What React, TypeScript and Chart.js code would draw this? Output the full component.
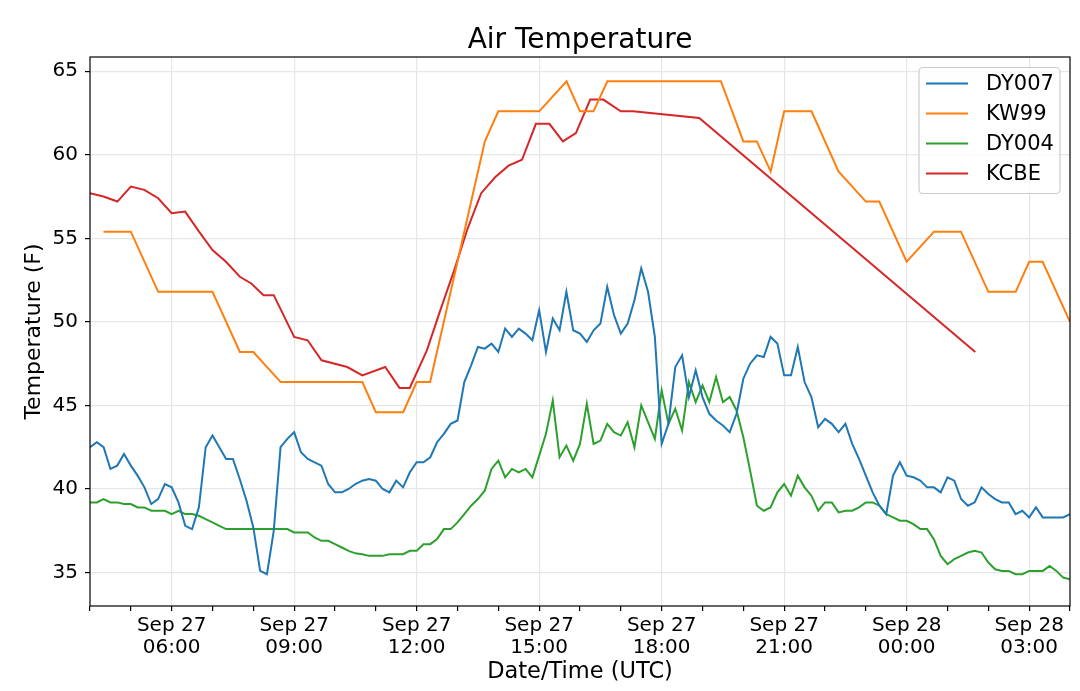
import { useEffect, useRef } from 'react';
import { Chart, registerables } from 'chart.js';

Chart.register(...registerables);

// Hours are counted from Sep 27 00:00 UTC (24 = Sep 28 00:00).
// DY007 / DY004 report every 10 minutes starting at 04:00.
const START_HOUR = 4;
const STEP_MINUTES = 10;

const dy007 = [
  42.5, 42.8, 42.5, 41.2, 41.4, 42.1, 41.4, 40.8, 40.1, 39.1, 39.4, 40.3,
  40.1, 39.2, 37.8, 37.6, 38.9, 42.5, 43.2, 42.5, 41.8, 41.8, 40.6, 39.3,
  37.7, 35.1, 34.9, 37.5, 42.5, 43.0, 43.4, 42.2, 41.8, 41.6, 41.4, 40.3,
  39.8, 39.8, 40.0, 40.3, 40.5, 40.6, 40.5, 40.0, 39.8, 40.5, 40.1, 41.0,
  41.6, 41.6, 41.9, 42.8, 43.3, 43.9, 44.1, 46.4, 47.4, 48.5, 48.4, 48.7,
  48.2, 49.6, 49.1, 49.6, 49.3, 48.9, 50.7, 48.2, 50.2, 49.5, 51.8, 49.5,
  49.3, 48.8, 49.5, 49.9, 52.1, 50.4, 49.3, 49.9, 51.3, 53.2, 51.8, 49.1,
  42.7, 43.9, 47.3, 48.0, 45.5, 47.1, 45.5, 44.5, 44.1, 43.8, 43.4, 44.5,
  46.6, 47.5, 48.0, 47.9, 49.1, 48.7, 46.8, 46.8, 48.5, 46.4, 45.5, 43.7,
  44.2, 43.9, 43.4, 43.9, 42.7, 41.8, 40.8, 39.8, 39.0, 38.5, 40.8, 41.6,
  40.8, 40.7, 40.5, 40.1, 40.1, 39.8, 40.7, 40.5, 39.4, 39.0, 39.2, 40.1,
  39.7, 39.4, 39.2, 39.2, 38.5, 38.7, 38.3, 38.9, 38.3, 38.3, 38.3, 38.3,
  38.5,
];

const dy004 = [
  39.2, 39.2, 39.4, 39.2, 39.2, 39.1, 39.1, 38.9, 38.9, 38.7, 38.7, 38.7,
  38.5, 38.7, 38.5, 38.5, 38.4, 38.2, 38.0, 37.8, 37.6, 37.6, 37.6, 37.6,
  37.6, 37.6, 37.6, 37.6, 37.6, 37.6, 37.4, 37.4, 37.4, 37.1, 36.9, 36.9,
  36.7, 36.5, 36.3, 36.15, 36.1, 36.0, 36.0, 36.0, 36.1, 36.1, 36.1, 36.3,
  36.3, 36.7, 36.7, 37.0, 37.6, 37.6, 38.0, 38.5, 39.0, 39.4, 39.9, 41.2,
  41.7, 40.7, 41.2, 41.0, 41.2, 40.7, 42.0, 43.3, 45.3, 41.9, 42.6, 41.7,
  42.7, 45.1, 42.7, 42.9, 43.9, 43.4, 43.2, 44.0, 42.5, 45.0, 44.0, 43.0,
  45.9, 43.9, 44.8, 43.5, 46.4, 45.2, 46.2, 45.2, 46.7, 45.2, 45.5, 44.7,
  43.1, 41.1, 39.0, 38.7, 38.9, 39.8, 40.3, 39.6, 40.8, 40.1, 39.6, 38.7,
  39.2, 39.2, 38.6, 38.7, 38.7, 38.9, 39.2, 39.2, 39.0, 38.5, 38.3, 38.1,
  38.1, 37.9, 37.6, 37.6, 37.0, 36.0, 35.5, 35.8, 36.0, 36.2, 36.3, 36.2,
  35.6, 35.2, 35.1, 35.1, 34.9, 34.9, 35.1, 35.1, 35.1, 35.4, 35.1, 34.7,
  34.6,
];

const kw99Hours = [
  4.33, 5.0, 5.67, 7.0, 7.67, 8.0, 8.67, 10.67, 11.0, 11.67, 12.0, 12.33,
  13.67, 14.0, 15.0, 15.67, 16.0, 16.33, 16.67, 19.45, 20.0, 20.33, 20.67,
  21.0, 21.67, 22.33, 23.0, 23.33, 24.0, 24.67, 25.33, 26.0, 26.67, 27.0,
  27.33, 28.0,
];
const kw99 = [
  55.4, 55.4, 51.8, 51.8, 48.2, 48.2, 46.4, 46.4, 44.6, 44.6, 46.4, 46.4,
  60.8, 62.6, 62.6, 64.4, 62.6, 62.6, 64.4, 64.4, 60.8, 60.8, 59.0,
  62.6, 62.6, 59.0, 57.2, 57.2, 53.6, 55.4, 55.4, 51.8, 51.8, 53.6,
  53.6, 50.0,
];

const kcbeHours = [
  4.0, 4.33, 4.67, 5.0, 5.33, 5.67, 6.0, 6.33, 6.67, 7.0, 7.33, 7.67, 7.95,
  8.25, 8.5, 9.0, 9.33, 9.67, 10.3, 10.67, 11.23, 11.58, 11.83, 12.25, 12.58,
  12.92, 13.25, 13.58, 13.92, 14.25, 14.58, 14.92, 15.25, 15.58, 15.9, 16.25,
  16.57, 17.0, 17.3, 18.92, 25.68,
];
const kcbe = [
  57.7, 57.5, 57.2, 58.1, 57.9, 57.4, 56.5, 56.6, 55.4, 54.3, 53.6, 52.7, 52.3,
  51.6, 51.6, 49.1, 48.9, 47.7, 47.3, 46.8, 47.3, 46.05, 46.05, 48.3, 50.7,
  53.1, 55.6, 57.7, 58.65, 59.35, 59.7, 61.85, 61.85, 60.8, 61.3, 63.3,
  63.3, 62.6, 62.6, 62.2, 48.2,
];

const majorHours = [6, 9, 12, 15, 18, 21, 24, 27];
const majorLabels = [
  ['Sep 27', '06:00'],
  ['Sep 27', '09:00'],
  ['Sep 27', '12:00'],
  ['Sep 27', '15:00'],
  ['Sep 27', '18:00'],
  ['Sep 27', '21:00'],
  ['Sep 28', '00:00'],
  ['Sep 28', '03:00'],
];
const tempTicks = [35, 40, 45, 50, 55, 60, 65];

const FONT = "'DejaVu Sans', sans-serif";
const GRID = '#e6e6e6';

function gridSeries(values: number[]) {
  return values.map((v, i) => ({ x: START_HOUR + (i * STEP_MINUTES) / 60, y: v }));
}

function timedSeries(hours: number[], values: number[]) {
  return values.map((v, i) => ({ x: hours[i], y: v }));
}

// matplotlib style frame around the axes
const framePlugin = {
  id: 'frame',
  afterDatasetsDraw(chart: any) {
    const { ctx, chartArea: a } = chart;
    ctx.save();
    ctx.strokeStyle = '#000';
    ctx.lineWidth = 1.2;
    ctx.strokeRect(a.left, a.top, a.right - a.left, a.bottom - a.top);
    ctx.restore();
  },
};

// framed legend in the upper right corner
const legendPlugin = {
  id: 'boxLegend',
  afterDraw(chart: any) {
    const { ctx, chartArea: a } = chart;
    const sets = chart.data.datasets;
    const w = 141;
    const h = 126;
    const x0 = a.right - 10 - w;
    const y0 = a.top + 10.5;
    ctx.save();
    ctx.beginPath();
    ctx.roundRect(x0, y0, w, h, 4);
    ctx.fillStyle = 'rgba(255,255,255,0.8)';
    ctx.fill();
    ctx.strokeStyle = '#cccccc';
    ctx.lineWidth = 1.2;
    ctx.stroke();
    ctx.font = `21px ${FONT}`;
    ctx.textBaseline = 'middle';
    ctx.textAlign = 'left';
    sets.forEach((ds: any, i: number) => {
      const y = y0 + 16 + i * 30;
      ctx.beginPath();
      ctx.moveTo(x0 + 7, y);
      ctx.lineTo(x0 + 49, y);
      ctx.strokeStyle = ds.borderColor;
      ctx.lineWidth = 2;
      ctx.stroke();
      ctx.fillStyle = '#000';
      ctx.fillText(ds.label, x0 + 67, y + 1);
    });
    ctx.restore();
  },
};

export default function App() {
  const canvasRef = useRef<HTMLCanvasElement>(null);

  useEffect(() => {
    if (!canvasRef.current) return;

    const hourTicks: { value: number }[] = [];
    for (let hr = 4; hr <= 28; hr++) hourTicks.push({ value: hr });

    const chart = new Chart(canvasRef.current, {
      type: 'line',
      data: {
        datasets: [
          { label: 'DY007', data: gridSeries(dy007), borderColor: '#1f77b4' },
          { label: 'KW99', data: timedSeries(kw99Hours, kw99), borderColor: '#ff7f0e' },
          { label: 'DY004', data: gridSeries(dy004), borderColor: '#2ca02c' },
          { label: 'KCBE', data: timedSeries(kcbeHours, kcbe), borderColor: '#d62728' },
        ],
      },
      options: {
        animation: false,
        responsive: true,
        maintainAspectRatio: false,
        layout: { padding: { left: 0, right: 10, top: 0, bottom: 0 } },
        elements: {
          point: { radius: 0 },
          line: { borderWidth: 2, tension: 0, fill: false },
        },
        plugins: {
          legend: { display: false },
          tooltip: { enabled: false },
          title: {
            display: true,
            fullSize: false,
            text: 'Air Temperature',
            color: '#000',
            font: { family: FONT, size: 28, weight: 'normal', lineHeight: 1.1 },
            padding: { top: 25.2, bottom: 1 },
          },
        },
        scales: {
          x: {
            type: 'linear',
            min: 4,
            max: 28,
            afterBuildTicks: (scale: any) => {
              scale.ticks = hourTicks.map((t) => ({ ...t }));
            },
            afterFit: (scale: any) => {
              scale.height = 85;
            },
            border: { display: false },
            grid: {
              color: (ctx: any) =>
                majorHours.includes(ctx.tick?.value) ? GRID : 'rgba(0,0,0,0)',
              lineWidth: 1.2,
              tickColor: '#000',
              tickLength: 5,
              tickWidth: 1.2,
            },
            ticks: {
              autoSkip: false,
              maxRotation: 0,
              minRotation: 0,
              padding: 3,
              color: '#000',
              font: { family: FONT, size: 20, lineHeight: 1.13 },
              callback: (value: any) => {
                const k = majorHours.indexOf(Number(value));
                return k >= 0 ? majorLabels[k] : '';
              },
            },
            title: {
              display: true,
              text: 'Date/Time (UTC)',
              color: '#000',
              font: { family: FONT, size: 22.5 },
              padding: { top: 0, bottom: 5.5 },
            },
          },
          y: {
            type: 'linear',
            min: 33,
            max: 65.85,
            afterBuildTicks: (scale: any) => {
              scale.ticks = tempTicks.map((v) => ({ value: v }));
            },
            afterFit: (scale: any) => {
              scale.width = 90;
            },
            border: { display: false },
            grid: {
              color: GRID,
              lineWidth: 1.2,
              tickColor: '#000',
              tickLength: 5,
              tickWidth: 1.2,
            },
            ticks: {
              padding: 7,
              color: '#000',
              font: { family: FONT, size: 20 },
            },
            title: {
              display: true,
              text: 'Temperature (F)',
              color: '#000',
              font: { family: FONT, size: 22 },
              padding: { top: 21, bottom: 0 },
            },
          },
        },
      },
      plugins: [framePlugin, legendPlugin],
    } as any);

    return () => {
      chart.destroy();
    };
  }, []);

  return (
    <div
      style={{
        position: 'fixed',
        left: 0,
        top: 0,
        width: 1080,
        height: 691,
        background: '#fff',
      }}
    >
      <canvas ref={canvasRef} />
    </div>
  );
}
